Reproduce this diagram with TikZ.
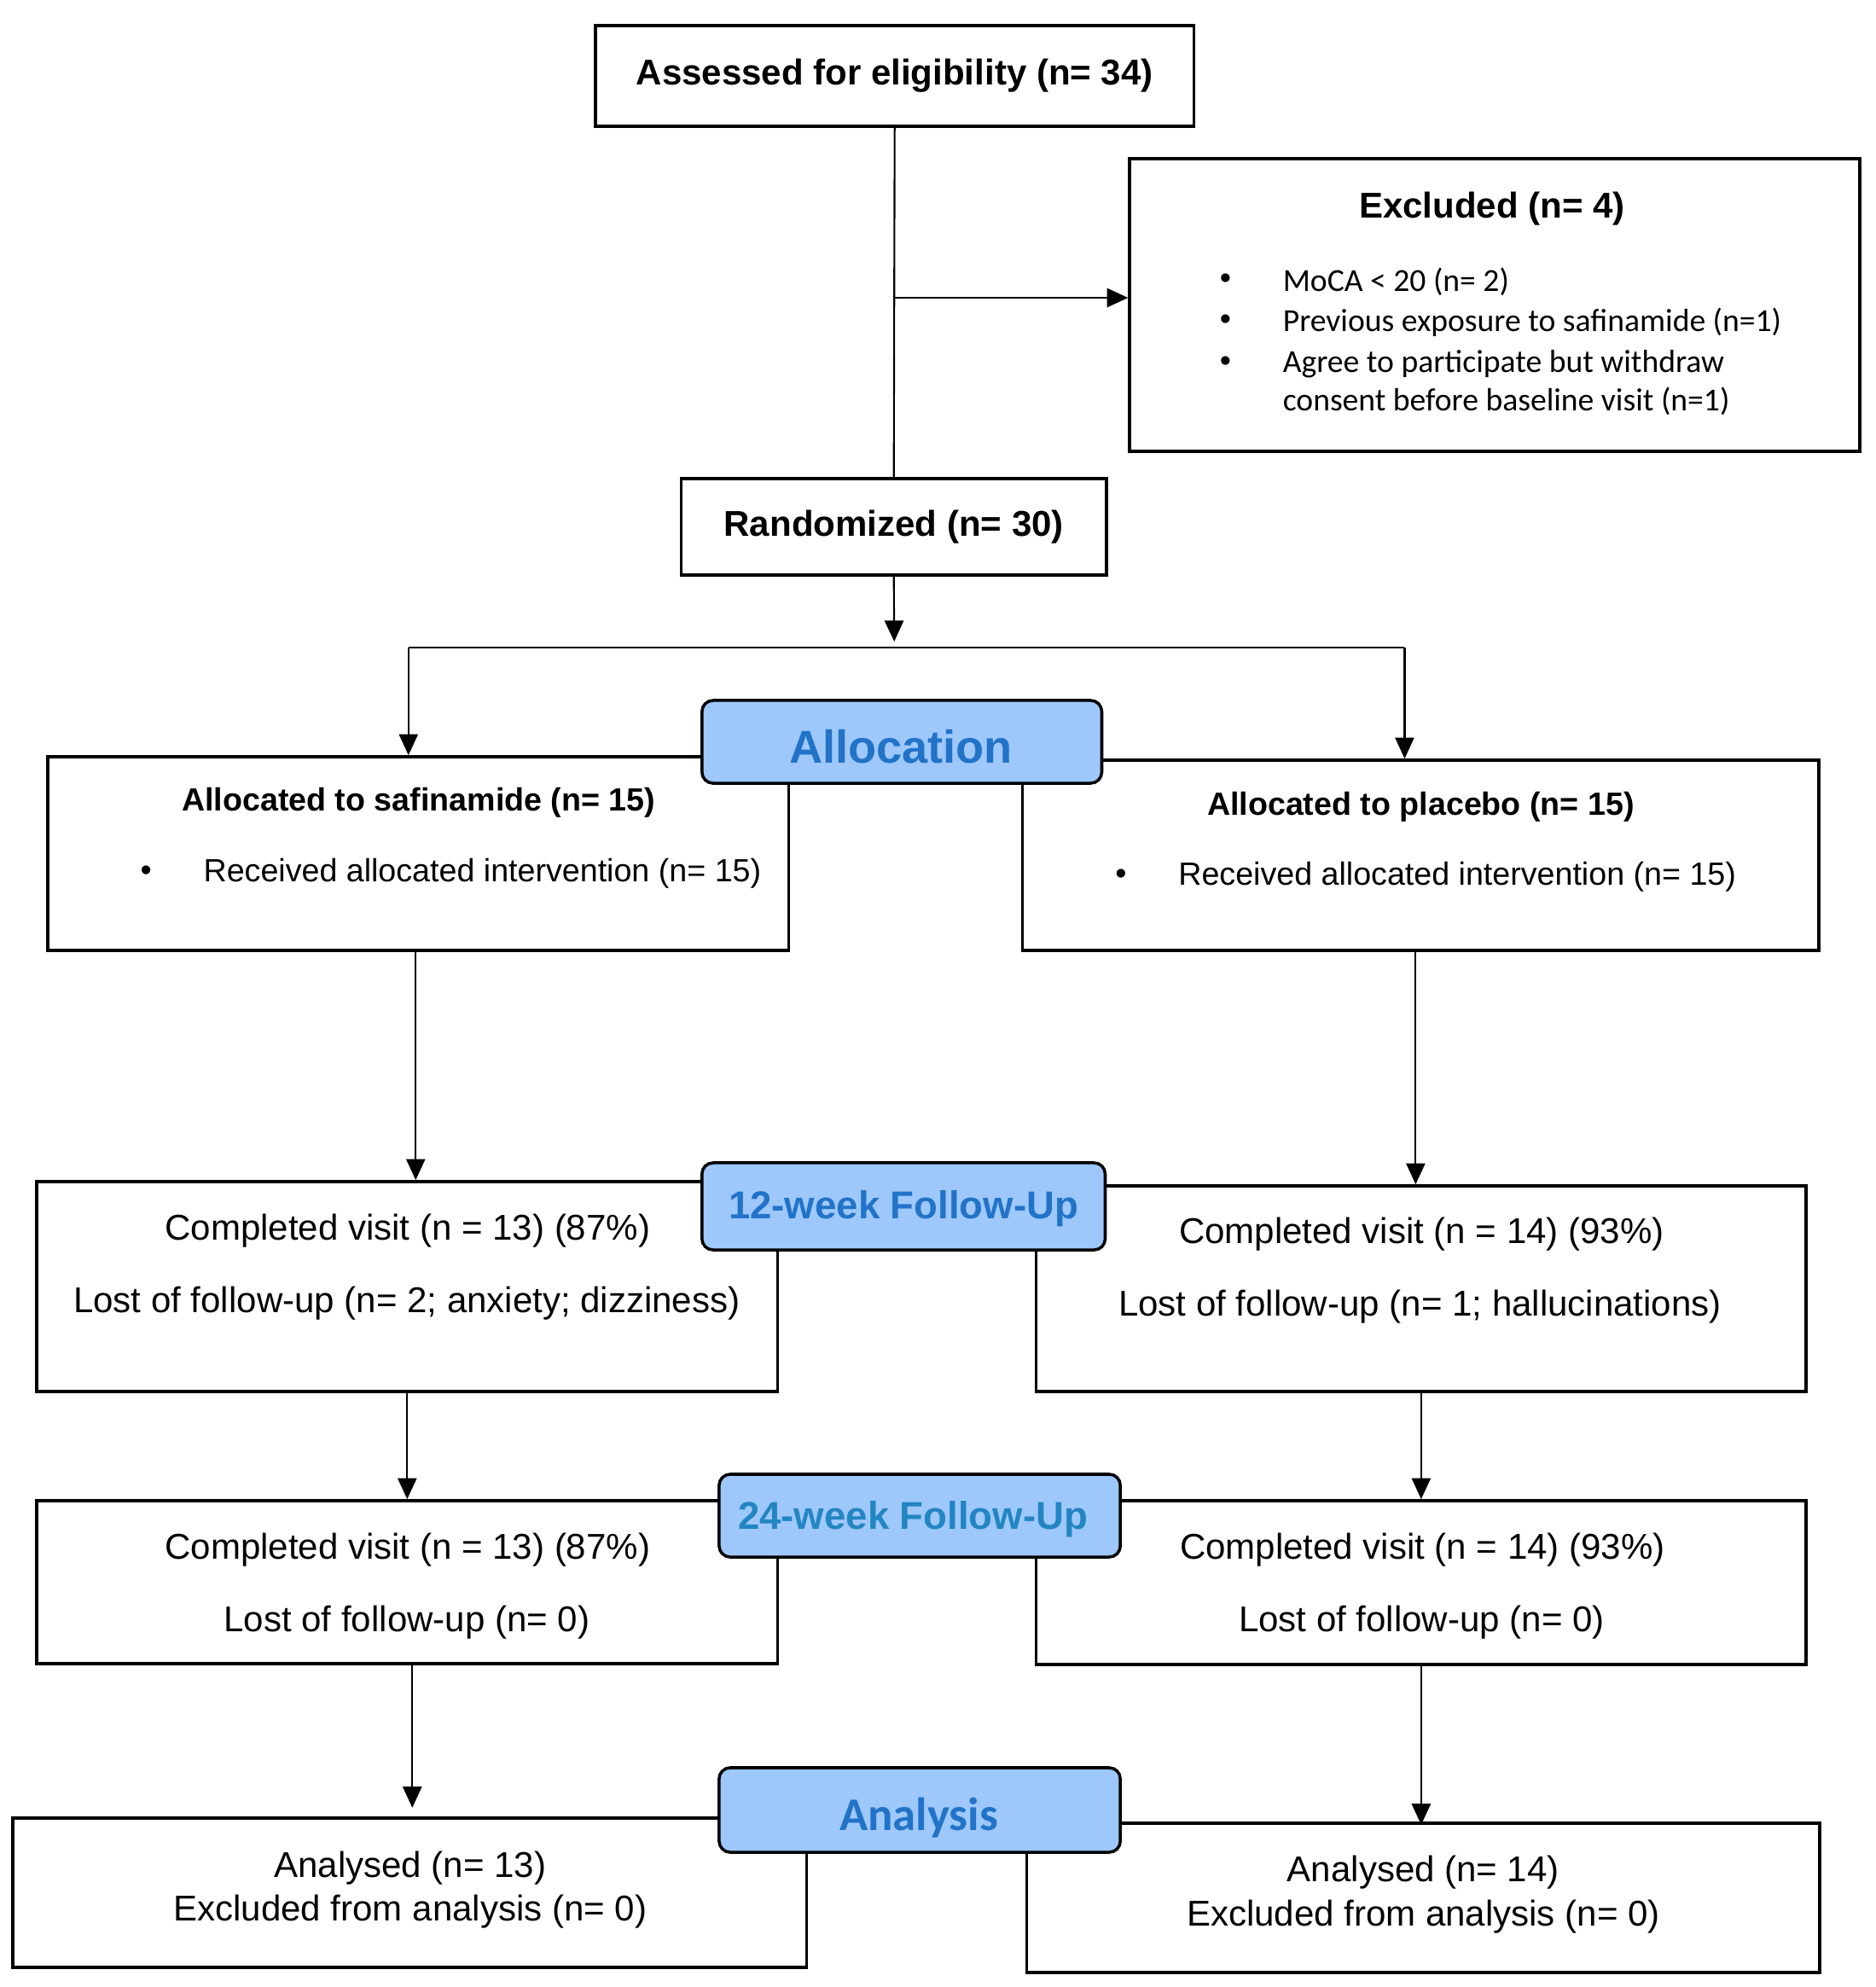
\documentclass[tikz,border=0pt]{standalone}
\usepackage{fontspec}
\setmainfont{Liberation Sans}
\newfontfamily\calfont{Carlito}
\usetikzlibrary{arrows.meta,calc}
\definecolor{lblfill}{HTML}{9EC8FC}
\definecolor{lbltext}{HTML}{2273C8}
\definecolor{lbltextb}{HTML}{2385C2}
\newcommand{\fsmain}{\fontsize{11.95}{14}\selectfont}
\newcommand{\fssmall}{\fontsize{10.7}{13}\selectfont}
\begin{document}
\begin{tikzpicture}[x=0.009945cm,y=-0.01cm,
  box/.style={draw, line width=1pt, inner sep=0pt, font=\fsmain},
  lbl/.style={draw, line width=1pt, fill=lblfill, rounded corners=3.7pt, inner sep=0pt},
  conn/.style={line width=0.6pt},
  arr/.style={conn, -{Triangle[length=7pt,width=6.3pt]}},
  txt/.style={inner sep=0pt, font=\fsmain},
  stxt/.style={inner sep=0pt, font=\fssmall},
  ctxt/.style={inner sep=0pt, font=\calfont\fssmall},
  lbltxt/.style={inner sep=0pt, anchor=base, text=lbltext, font=\bfseries}
]
\path[use as bounding box, fill=white] (0,0) rectangle (2208.1,2329);

% boxes
\node[box, minimum width=7.011cm, minimum height=1.18cm] (assess) at (1053.5,89) {\bfseries Assessed for eligibility (n= 34)};
\node[box, minimum width=8.553cm, minimum height=3.43cm] (excl) at (1760,357.5) {};
\node[box, minimum width=4.982cm, minimum height=1.13cm] (rand) at (1052.5,617.5) {\bfseries Randomized (n= 30)};
\node[box, minimum width=8.682cm, minimum height=2.27cm] (allocL) at (492.5,1000.5) {};
\node[box, minimum width=9.328cm, minimum height=2.23cm] (allocR) at (1673,1002.5) {};
\node[box, minimum width=8.682cm, minimum height=2.46cm] (w12L) at (479.5,1508) {};
\node[box, minimum width=9.020cm, minimum height=2.41cm] (w12R) at (1673.5,1510.5) {};
\node[box, minimum width=8.682cm, minimum height=1.91cm] (w24L) at (479.5,1854.5) {};
\node[box, minimum width=9.020cm, minimum height=1.92cm] (w24R) at (1673.5,1855) {};
\node[box, minimum width=9.299cm, minimum height=1.75cm] (anL) at (482.5,2218.5) {};
\node[box, minimum width=9.289cm, minimum height=1.75cm] (anR) at (1676,2224.5) {};

% excluded texts
\node[inner sep=0pt, font=\bfseries\fsmain] (exclT) at (1757,245) {Excluded (n= 4)};
\node[stxt] (eb1) at (1443,330) {•};
\node[stxt] (eb2) at (1443,378) {•};
\node[stxt] (eb3) at (1443,427) {•};
\node[ctxt, anchor=west] (e1) at (1510,330) {MoCA < 20 (n= 2)};
\node[ctxt, anchor=west] (e2) at (1510,378) {Previous exposure to safinamide (n=1)};
\node[ctxt, anchor=west] (e3) at (1510,427) {Agree to participate but withdraw};
\node[ctxt, anchor=west] (e4) at (1510,470) {consent before baseline visit (n=1)};

% allocation texts
\node[stxt, font=\bfseries\fssmall] (aLT) at (493,941) {Allocated to safinamide (n= 15)};
\node[stxt] (aLb) at (172,1024) {•};
\node[stxt, anchor=west] (aL1) at (239,1024) {Received allocated intervention (n= 15)};
\node[stxt, font=\bfseries\fssmall] (aRT) at (1673,946) {Allocated to placebo (n= 15)};
\node[stxt] (aRb) at (1320,1028) {•};
\node[stxt, anchor=west] (aR1) at (1387,1028) {Received allocated intervention (n= 15)};

% 12-week texts
\node[txt] (c12L) at (480,1443) {Completed visit (n = 13) (87\%)};
\node[txt] (l12L) at (479,1528) {Lost of follow-up (n= 2; anxiety; dizziness)};
\node[txt] (c12R) at (1674,1447) {Completed visit (n = 14) (93\%)};
\node[txt] (l12R) at (1672,1532) {Lost of follow-up (n= 1; hallucinations)};

% 24-week texts
\node[txt] (c24L) at (480,1817) {Completed visit (n = 13) (87\%)};
\node[txt] (l24L) at (479,1902) {Lost of follow-up (n= 0)};
\node[txt] (c24R) at (1675,1817) {Completed visit (n = 14) (93\%)};
\node[txt] (l24R) at (1674,1902) {Lost of follow-up (n= 0)};

% analysis texts
\node[txt] (aaL) at (483,2190) {Analysed (n= 13)};
\node[txt] (exL) at (483,2241) {Excluded from analysis (n= 0)};
\node[txt] (aaR) at (1676,2195) {Analysed (n= 14)};
\node[txt] (exR) at (1676,2247) {Excluded from analysis (n= 0)};

% connectors
\coordinate (br) at (1053,349);
\coordinate (rtip) at (1053,752);
\coordinate (hL) at (481,759);
\coordinate (hR) at (1654,759);
\coordinate (aLs) at ($(allocL.south)+(-3,0)$);
\coordinate (aRs) at ($(allocR.south)+(-6,0)$);
\coordinate (anLtip) at ($(w24L.south)+(6,167)$);
\coordinate (anRtip) at ($(w24R.south)+(0,186)$);
\draw[conn] (assess.south) -- (rand.north);
\draw[arr] (br) -- (br -| excl.west);
\draw[arr] (rand.south) -- (rtip);
\draw[conn] (hL) -- (hR);
\draw[arr] (hL) -- (hL |- allocL.north);
\draw[arr] (hR) -- (hR |- allocR.north);
\draw[arr] (aLs) -- (aLs |- w12L.north);
\draw[arr] (aRs) -- (aRs |- w12R.north);
\draw[arr] (w12L.south) -- (w12L.south |- w24L.north);
\draw[arr] (w12R.south) -- (w12R.south |- w24R.north);
\draw[arr] ($(w24L.south)+(6,0)$) -- (anLtip);
\draw[arr] (w24R.south) -- (anRtip);

% stage labels
\node[lbl, minimum width=4.684cm, minimum height=0.97cm] (lAlloc) at (1062,869.5) {};
\node[lbltxt, font=\bfseries\fontsize{15.4}{18}\selectfont] (tAlloc) at (1061,894) {Allocation};
\node[lbl, minimum width=4.724cm, minimum height=1.02cm] (l12) at (1064,1414) {};
\node[lbltxt, font=\bfseries\fontsize{12.95}{16}\selectfont] (t12) at (1064,1428) {12-week Follow-Up};
\node[lbl, minimum width=4.70cm, minimum height=0.97cm] (l24) at (1083,1776.5) {};
\node[lbltxt, text=lbltextb, font=\bfseries\fontsize{12.95}{16}\selectfont] (t24) at (1075,1792) {24-week Follow-Up};
\node[lbl, minimum width=4.70cm, minimum height=0.99cm] (lAn) at (1083,2121.5) {};
\node[lbltxt, font=\calfont\bfseries\fontsize{15.6}{18}\selectfont] (tAn) at (1082,2145) {Analysis};
\end{tikzpicture}
\end{document}
